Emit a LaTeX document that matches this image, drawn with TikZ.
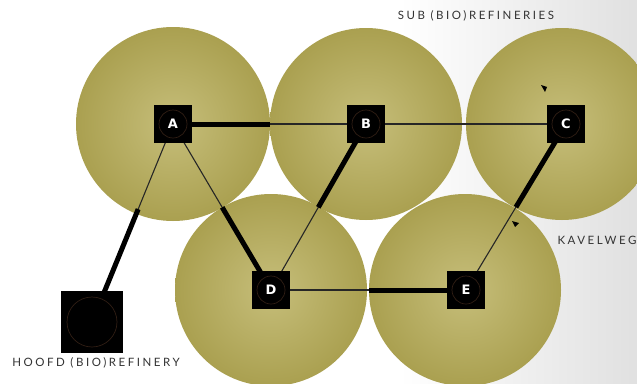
\documentclass[tikz,border=0pt]{standalone}
\usepackage{fontspec}
\usetikzlibrary{calc,backgrounds}
\newfontfamily\lblfont[LetterSpace=22]{Lato}
\newfontfamily\nodefont{DejaVu Sans}
\definecolor{olivein}{RGB}{198,190,122}
\definecolor{oliveout}{RGB}{170,160,80}
\definecolor{ringc}{RGB}{48,30,20}
\tikzset{
  zone/.style={inner color=olivein, outer color=oliveout},
  sq/.style={fill=black, minimum size=38pt, inner sep=0pt, text=white, font=\nodefont\bfseries\fontsize{13}{13}\selectfont},
  bigsq/.style={fill=black, minimum size=62pt, inner sep=0pt},
  thinl/.style={draw=black!85, line width=1.1pt},
  thickl/.style={draw=black, line width=5pt},
  lbl/.style={font=\lblfont\fontsize{11.5}{13}\selectfont, text=black!80, inner sep=0pt},
  ring/.style={draw=ringc, line width=0.7pt},
  tick/.style={fill=black}
}
\begin{document}
\begin{tikzpicture}[x=1pt,y=-1pt]
\useasboundingbox (0,0) rectangle (637,383);
% nodes
\node[sq] (A) at (173,124) {A};
\node[sq] (B) at (366,124) {B};
\node[sq] (C) at (566,124) {C};
\node[sq] (D) at (271,290) {D};
\node[sq] (E) at (466,290) {E};
\node[bigsq] (H) at (92,322) {};
\foreach \n in {A,B,C,D,E} {\draw[ring] (\n) circle (14pt);}
\draw[ring] (H) circle (25pt);
% labels
\node[lbl] (sub) at (476,16) {SUB (BIO)REFINERIES};
\node[lbl] (kav) at (597,240) {KAVELWEG};
\node[lbl] (hoofd) at (96,363) {HOOFD (BIO)REFINERY};
% thick-segment end points
\coordinate (ab) at ($(A)!97pt!(B)$);
\coordinate (ah) at ($(A)!92pt!(H)$);
\coordinate (ad) at ($(D)!96pt!(A)$);
\coordinate (bd) at ($(B)!96pt!(D)$);
\coordinate (de) at ($(E)!97pt!(D)$);
\coordinate (ec) at ($(C)!97pt!(E)$);
\begin{scope}[on background layer]
  \fill[white] (0,0) rectangle (637,383);
  \shade[left color=white, right color=black!12] (400,0) rectangle (637,383);
  % zones
  \shade[zone] (173,124) circle (97pt);
  \shade[zone] (366,124) circle (96pt);
  \shade[zone] (562,124) circle (96pt);
  \shade[zone] (271,290) circle (96pt);
  \shade[zone] (465,290) circle (96pt);
  % connectors
  \draw[thinl] (A.center) -- (B.center);
  \draw[thinl] (B.center) -- (C.center);
  \draw[thinl] (A.center) -- (D.center);
  \draw[thinl] (A.center) -- (H.center);
  \draw[thinl] (B.center) -- (D.center);
  \draw[thinl] (D.center) -- (E.center);
  \draw[thinl] (E.center) -- (C.center);
  \draw[thickl] (A.center) -- (ab);
  \draw[thickl] (ah) -- (H.center);
  \draw[thickl] (ad) -- (D.center);
  \draw[thickl] (B.center) -- (bd);
  \draw[thickl] (de) -- (E.center);
  \draw[thickl] (C.center) -- (ec);
  % small markers
  \fill[tick] (541,85) -- (547,87) -- (545,92) -- cycle;
  \fill[tick] (512,221) -- (519,223) -- (515,227) -- cycle;
\end{scope}
\end{tikzpicture}
\end{document}
